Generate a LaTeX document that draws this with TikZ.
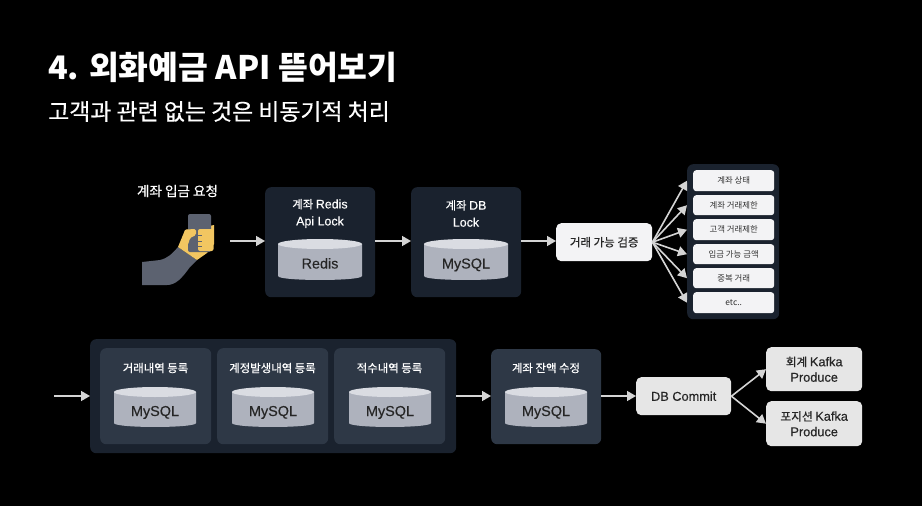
\documentclass[tikz,border=0pt]{standalone}
\usepackage{fontspec}
\setmainfont{Noto Sans CJK KR}
\newfontfamily\krm[FakeBold=0.45]{Noto Sans CJK KR}
\newfontfamily\latm[FakeBold=0.3,Scale=1.09]{Liberation Sans}
\newfontfamily\latc[FakeBold=0.2]{Liberation Sans}
\usetikzlibrary{arrows.meta}
\definecolor{panelA}{HTML}{1A222E}
\definecolor{panelB}{HTML}{2E3846}
\definecolor{cylBody}{HTML}{AEB2BD}
\definecolor{cylTop}{HTML}{DADCE2}
\definecolor{boxW}{HTML}{F3F3F5}
\definecolor{boxG}{HTML}{E6E6E6}
\definecolor{arrowC}{HTML}{D4D4D4}
\definecolor{handY}{HTML}{F2C661}
\definecolor{armG}{HTML}{5C6270}
\tikzset{
  x=1pt,y=-1pt,
  panel/.style={fill=panelA,draw=none,rounded corners=6pt,inner sep=0pt},
  sub/.style={fill=panelB,draw=none,rounded corners=6pt,inner sep=0pt},
  wbox/.style={fill=boxW,draw=none,rounded corners=5pt,inner sep=0pt},
  gbox/.style={fill=boxG,draw=none,rounded corners=5pt,inner sep=0pt},
  item/.style={fill=boxW,draw=none,rounded corners=3pt,inner sep=0pt},
  lab/.style={text=white,align=center,font=\fontsize{11.4}{17}\selectfont\krm,inner sep=0pt},
  dark/.style={text=black!85,align=center,inner sep=0pt,font=\fontsize{11.7}{15.5}\selectfont\krm},
  arr/.style={draw=arrowC,line width=1.6pt,-{Triangle[length=9pt,width=10pt]}},
}
\newcommand{\bx}[6][panel]{\node[#1,anchor=north west,minimum width={(#5-#3)*1pt},minimum height={(#6-#4)*1pt}] (#2) at (#3,#4) {};}
\newcommand{\cyl}[5]{%
  \fill[cylBody] (#1,#2+5) -- (#1,#4-4) .. controls (#1,#4+1.3) and (#3,#4+1.3) .. (#3,#4-4) -- (#3,#2+5) -- cycle;
  \fill[cylTop] ({(#1+#3)/2},#2+5) ellipse[x radius={(#3-#1)/2},y radius=5];
  \node[text=black!85,inner sep=0pt,anchor=base,font=\fontsize{14.4}{16}\selectfont\latc] at ({(#1+#3)/2},{(#2+#4)/2+9}) {#5};}
\begin{document}
\begin{tikzpicture}
\useasboundingbox (0,0) rectangle (922,506);
\fill[black] (0,0) rectangle (922,506);
% titles
\node[anchor=west,text=white,inner sep=0pt,font=\fontsize{32.4}{36}\selectfont\bfseries] (title) at (48,67.5) {4. 외화예금 API 뜯어보기};
\node[anchor=west,text=white,inner sep=0pt,font=\fontsize{22.9}{26}\selectfont\krm] (subtitle) at (48,111.5) {고객과 관련 없는 것은 비동기적 처리};
% phone hand
\node[lab,font=\fontsize{13.6}{16}\selectfont\krm] (req) at (177.5,191) {계좌 입금 요청};
\fill[armG] (142,262) -- (160,260) .. controls (168,258) and (172,254) .. (178,247) -- (197,260) -- (190,267) .. controls (182,278) and (176,285) .. (167,285) -- (142,285) -- cycle;
\fill[handY] (178,247) -- (185,230) -- (195,229) -- (214,225) -- (214,244) -- (207,253) -- (197,260) -- cycle;
\fill[armG,rounded corners=2pt] (188,214) rectangle (211,252);
\fill[handY,rounded corners=1.5pt] (185,229.5) -- (196,229) -- (196,235) -- (190,238) -- (188,245) -- (184,240) -- cycle;
\fill[handY,rounded corners=2pt] (198,229) rectangle (213.5,251);
\fill[armG] (198,235) rectangle (202,235.8);
\fill[armG] (198,241) rectangle (202,241.8);
\fill[armG] (198,246) rectangle (202,246.8);
\coordinate (astart) at (230,241);
% top row
\bx{redisbox}{265}{187}{375}{297}
\node[lab] (redislab) at (320,213.5) {계좌 {\latm Redis}\\{\latm Api Lock}};
\cyl{278}{239}{362}{280}{Redis}
\bx{dbbox}{411}{187}{521}{297}
\node[lab] (dblab) at (466,213.5) {계좌 {\latm DB}\\{\latm Lock}};
\cyl{424}{239}{508}{280}{MySQL}
\bx[wbox]{check}{556}{223}{652}{261}
\node[text=black!85,inner sep=0pt,font=\fontsize{11.5}{13}\selectfont\krm] at (check) {거래 가능 검증};
\bx{chkpanel}{687}{164}{779}{319}
\bx[item]{i1}{693}{170}{774}{191}
\bx[item]{i2}{693}{195}{774}{215}
\bx[item]{i3}{693}{219}{774}{240}
\bx[item]{i4}{693}{244}{774}{264}
\bx[item]{i5}{693}{268}{774}{288}
\bx[item]{i6}{693}{292}{774}{313}
\foreach \n/\t in {i1/계좌 상태,i2/계좌 거래제한,i3/고객 거래제한,i4/입금 가능 금액,i5/중복 거래,i6/etc..}
  \node[text=black!80,inner sep=0pt,font=\fontsize{8.4}{10}\selectfont] at (\n) {\t};
\draw[arr] (astart) -- (redisbox.west |- astart);
\draw[arr] (redisbox.east |- astart) -- (dbbox.west |- astart);
\draw[arr] (dbbox.east |- astart) -- (check.west |- astart);
\draw[arr] (check.east) -- (chkpanel.west |- i1);
\draw[arr] (check.east) -- (chkpanel.west |- i2);
\draw[arr] (check.east) -- (chkpanel.west |- i3);
\draw[arr] (check.east) -- (chkpanel.west |- i4);
\draw[arr] (check.east) -- (chkpanel.west |- i5);
\draw[arr] (check.east) -- (chkpanel.west |- i6);
% bottom row
\bx{big}{90}{339}{456}{453}
\bx[sub]{s1}{100}{348}{211}{444}
\bx[sub]{s2}{217}{348}{328}{444}
\bx[sub]{s3}{334}{348}{445}{444}
\node[lab] (l1) at (155.5,368) {거래내역 등록};
\node[lab] (l2) at (272.5,368) {계정발생내역 등록};
\node[lab] (l3) at (389.5,368) {적수내역 등록};
\cyl{114}{387}{196}{427}{MySQL}
\cyl{232}{387}{314}{427}{MySQL}
\cyl{349}{387}{431}{427}{MySQL}
\bx[sub]{bal}{491}{349}{601}{444}
\node[lab] (l4) at (546,368) {계좌 잔액 수정};
\cyl{505}{387}{587}{427}{MySQL}
\bx[gbox]{commit}{636}{377}{731}{415}
\node[dark] at (commit) {\latm DB Commit};
\bx[gbox]{k1}{766}{347}{862}{391}
\node[dark] at (k1) {회계 {\latm Kafka}\\{\latm Produce}};
\bx[gbox]{k2}{766}{401}{862}{446}
\node[dark] at (k2) {포지션 {\latm Kafka}\\{\latm Produce}};
\coordinate (start) at (54,396);
\draw[arr] (start) -- (big.west |- start);
\draw[arr] (big.east |- start) -- (bal.west |- start);
\draw[arr] (bal.east |- start) -- (commit.west |- start);
\draw[arr] (commit.east) -- (k1.west);
\draw[arr] (commit.east) -- (k2.west);
\end{tikzpicture}
\end{document}
